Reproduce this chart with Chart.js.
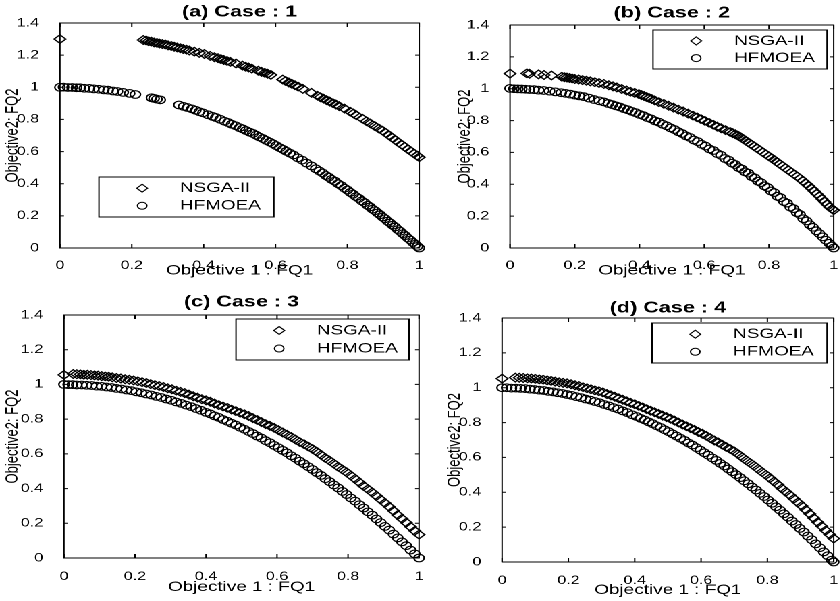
<!DOCTYPE html>
<html>
<head>
<meta charset="utf-8">
<title>Pareto fronts, cases 1-4</title>
<script src="https://cdn.jsdelivr.net/npm/chart.js@4.4.1/dist/chart.umd.min.js"></script>
<style>
  html, body { margin: 0; padding: 0; background: #fff; overflow: hidden; }
  /* panels are laid out narrow and widened by 1.35 like the printed figure */
  #figure { position: absolute; left: 0; top: 0; width: 623px; height: 601px;
            transform: scaleX(1.35); transform-origin: 0 0; }
  #figure canvas { position: absolute; }
</style>
</head>
<body>
<div id="figure">
  <canvas id="caseA" width="316" height="292" style="left:0px;top:0px"></canvas>
  <canvas id="caseB" width="307" height="292" style="left:316px;top:0px"></canvas>
  <canvas id="caseC" width="316" height="309" style="left:0px;top:292px"></canvas>
  <canvas id="caseD" width="307" height="309" style="left:316px;top:292px"></canvas>
</div>
<script>
// ---- (a) Case 1 ----
const aNsgaX = [0.000, 0.232, 0.240, 0.247, 0.254, 0.262, 0.270, 0.277, 0.285, 0.293, 0.301, 0.310, 0.318, 0.326,
  0.335, 0.343, 0.352, 0.360, 0.374, 0.388, 0.402, 0.418, 0.430, 0.440, 0.448, 0.456, 0.465, 0.474, 0.490,
  0.508, 0.517, 0.525, 0.534, 0.552, 0.561, 0.570, 0.578, 0.587, 0.620, 0.628, 0.637, 0.645, 0.654, 0.663,
  0.676, 0.700, 0.717, 0.725, 0.734, 0.742, 0.751, 0.760, 0.768, 0.777, 0.792, 0.808, 0.817, 0.825, 0.842,
  0.853, 0.864, 0.876, 0.888, 0.898, 0.907, 0.916, 0.925, 0.934, 0.943, 0.952, 0.960, 0.969, 0.978, 0.986,
  0.994, 1.000];
const aNsgaY = [1.300, 1.294, 1.291, 1.286, 1.284, 1.279, 1.276, 1.272, 1.269, 1.266, 1.261, 1.257, 1.252, 1.248,
  1.243, 1.238, 1.234, 1.229, 1.222, 1.214, 1.207, 1.195, 1.187, 1.181, 1.175, 1.170, 1.164, 1.158, 1.148,
  1.135, 1.128, 1.123, 1.116, 1.103, 1.096, 1.090, 1.084, 1.077, 1.048, 1.039, 1.030, 1.022, 1.013, 1.004,
  0.990, 0.965, 0.947, 0.938, 0.929, 0.920, 0.911, 0.901, 0.893, 0.883, 0.867, 0.848, 0.837, 0.826, 0.804,
  0.789, 0.775, 0.759, 0.743, 0.730, 0.716, 0.701, 0.686, 0.671, 0.656, 0.642, 0.629, 0.614, 0.600, 0.587,
  0.575, 0.565];
const aHfX = [0.000, 0.010, 0.022, 0.034, 0.046, 0.056, 0.068, 0.082, 0.094, 0.108, 0.122, 0.134, 0.148, 0.160,
  0.176, 0.194, 0.210, 0.255, 0.262, 0.270, 0.279, 0.331, 0.344, 0.355, 0.367, 0.378, 0.388, 0.398, 0.412,
  0.425, 0.434, 0.446, 0.458, 0.468, 0.478, 0.489, 0.500, 0.509, 0.518, 0.528, 0.537, 0.546, 0.555, 0.565,
  0.574, 0.584, 0.593, 0.602, 0.612, 0.621, 0.630, 0.640, 0.650, 0.662, 0.674, 0.686, 0.700, 0.712, 0.722,
  0.731, 0.740, 0.748, 0.756, 0.765, 0.774, 0.783, 0.792, 0.800, 0.808, 0.816, 0.824, 0.832, 0.840, 0.848,
  0.856, 0.863, 0.870, 0.877, 0.884, 0.891, 0.898, 0.905, 0.912, 0.919, 0.926, 0.933, 0.940, 0.947, 0.954,
  0.961, 0.968, 0.975, 0.982, 0.989, 0.995, 1.000];
const aHfY = [1.000, 1.001, 0.999, 0.999, 0.997, 0.997, 0.994, 0.993, 0.990, 0.988, 0.984, 0.982, 0.977, 0.974,
  0.968, 0.962, 0.955, 0.935, 0.931, 0.926, 0.922, 0.890, 0.881, 0.874, 0.866, 0.857, 0.848, 0.841, 0.829,
  0.819, 0.812, 0.801, 0.789, 0.781, 0.770, 0.761, 0.749, 0.741, 0.731, 0.721, 0.713, 0.702, 0.691, 0.681,
  0.670, 0.659, 0.649, 0.637, 0.624, 0.614, 0.602, 0.590, 0.579, 0.561, 0.547, 0.529, 0.511, 0.493, 0.479,
  0.467, 0.451, 0.441, 0.427, 0.416, 0.400, 0.388, 0.372, 0.361, 0.346, 0.335, 0.320, 0.309, 0.293, 0.282,
  0.266, 0.256, 0.242, 0.232, 0.218, 0.207, 0.193, 0.182, 0.167, 0.156, 0.142, 0.131, 0.115, 0.104, 0.089,
  0.077, 0.062, 0.050, 0.035, 0.023, 0.010, 0.000];

// ---- (b) Case 2 ----
const bNsgaX = [0.000, 0.052, 0.060, 0.088, 0.105, 0.128, 0.160, 0.168, 0.176, 0.184, 0.192, 0.200, 0.212, 0.224,
  0.236, 0.248, 0.262, 0.275, 0.290, 0.305, 0.318, 0.330, 0.345, 0.360, 0.372, 0.385, 0.398, 0.406, 0.414,
  0.422, 0.430, 0.438, 0.447, 0.460, 0.475, 0.490, 0.505, 0.520, 0.535, 0.550, 0.565, 0.578, 0.590, 0.602,
  0.615, 0.628, 0.640, 0.652, 0.666, 0.680, 0.688, 0.696, 0.704, 0.712, 0.720, 0.728, 0.736, 0.745, 0.754,
  0.763, 0.772, 0.781, 0.790, 0.800, 0.808, 0.816, 0.824, 0.833, 0.842, 0.851, 0.860, 0.869, 0.878, 0.887,
  0.896, 0.905, 0.914, 0.923, 0.932, 0.940, 0.948, 0.956, 0.964, 0.972, 0.980, 0.988, 0.995, 1.000];
const bNsgaY = [1.095, 1.096, 1.094, 1.090, 1.086, 1.083, 1.075, 1.072, 1.070, 1.067, 1.064, 1.061, 1.058, 1.054,
  1.050, 1.046, 1.041, 1.036, 1.030, 1.022, 1.015, 1.008, 0.998, 0.989, 0.981, 0.974, 0.966, 0.960, 0.954,
  0.948, 0.941, 0.935, 0.927, 0.916, 0.905, 0.893, 0.881, 0.869, 0.857, 0.844, 0.831, 0.820, 0.809, 0.798,
  0.786, 0.774, 0.762, 0.752, 0.740, 0.728, 0.721, 0.714, 0.706, 0.696, 0.685, 0.674, 0.663, 0.651, 0.639,
  0.627, 0.614, 0.602, 0.589, 0.575, 0.564, 0.553, 0.541, 0.528, 0.515, 0.502, 0.489, 0.476, 0.463, 0.450,
  0.436, 0.421, 0.405, 0.389, 0.372, 0.356, 0.340, 0.324, 0.307, 0.290, 0.273, 0.257, 0.245, 0.238];
const bHfX = [0.000, 0.012, 0.024, 0.036, 0.048, 0.060, 0.074, 0.088, 0.104, 0.122, 0.140, 0.158, 0.172, 0.186,
  0.200, 0.214, 0.228, 0.244, 0.260, 0.276, 0.290, 0.304, 0.316, 0.328, 0.340, 0.352, 0.364, 0.376, 0.388,
  0.400, 0.412, 0.424, 0.436, 0.448, 0.460, 0.472, 0.484, 0.496, 0.508, 0.520, 0.532, 0.544, 0.556, 0.568,
  0.580, 0.592, 0.604, 0.616, 0.628, 0.640, 0.652, 0.664, 0.676, 0.686, 0.696, 0.706, 0.716, 0.726, 0.736,
  0.746, 0.756, 0.766, 0.776, 0.786, 0.796, 0.806, 0.816, 0.826, 0.836, 0.846, 0.856, 0.866, 0.876, 0.886,
  0.896, 0.906, 0.916, 0.926, 0.936, 0.946, 0.956, 0.966, 0.976, 0.986, 0.994, 1.000];
const bHfY = [1.002, 1.000, 0.999, 0.998, 0.997, 0.995, 0.994, 0.991, 0.989, 0.985, 0.980, 0.975, 0.971, 0.966,
  0.960, 0.955, 0.950, 0.941, 0.932, 0.924, 0.917, 0.907, 0.900, 0.892, 0.885, 0.875, 0.868, 0.858, 0.850,
  0.839, 0.831, 0.819, 0.811, 0.798, 0.790, 0.777, 0.767, 0.754, 0.744, 0.730, 0.719, 0.704, 0.694, 0.678,
  0.668, 0.651, 0.640, 0.622, 0.612, 0.593, 0.582, 0.562, 0.551, 0.533, 0.524, 0.505, 0.496, 0.478, 0.470,
  0.449, 0.440, 0.420, 0.410, 0.390, 0.380, 0.358, 0.348, 0.325, 0.316, 0.292, 0.282, 0.257, 0.247, 0.222,
  0.210, 0.184, 0.170, 0.146, 0.130, 0.108, 0.090, 0.070, 0.049, 0.030, 0.013, 0.000];

// ---- (c) Case 3 ----
const cNsgaX = [0.000, 0.026, 0.036, 0.046, 0.056, 0.066, 0.076, 0.086, 0.096, 0.106, 0.116, 0.126, 0.136, 0.148,
  0.160, 0.172, 0.184, 0.196, 0.208, 0.220, 0.232, 0.244, 0.256, 0.268, 0.280, 0.292, 0.304, 0.316, 0.328,
  0.340, 0.352, 0.364, 0.376, 0.388, 0.400, 0.412, 0.424, 0.436, 0.448, 0.460, 0.472, 0.484, 0.496, 0.508,
  0.520, 0.532, 0.544, 0.556, 0.568, 0.580, 0.592, 0.604, 0.616, 0.628, 0.640, 0.652, 0.664, 0.676, 0.688,
  0.700, 0.712, 0.724, 0.736, 0.748, 0.760, 0.772, 0.784, 0.796, 0.808, 0.820, 0.832, 0.844, 0.856, 0.868,
  0.880, 0.892, 0.904, 0.916, 0.928, 0.940, 0.952, 0.964, 0.976, 0.988, 1.000];
const cNsgaY = [1.055, 1.060, 1.059, 1.058, 1.056, 1.056, 1.054, 1.052, 1.051, 1.048, 1.046, 1.044, 1.041, 1.037,
  1.034, 1.030, 1.027, 1.023, 1.018, 1.013, 1.008, 1.002, 0.996, 0.991, 0.985, 0.978, 0.972, 0.964, 0.957,
  0.950, 0.941, 0.932, 0.924, 0.915, 0.908, 0.900, 0.890, 0.881, 0.873, 0.865, 0.855, 0.846, 0.837, 0.828,
  0.818, 0.806, 0.795, 0.783, 0.771, 0.761, 0.750, 0.737, 0.723, 0.710, 0.697, 0.683, 0.668, 0.656, 0.642,
  0.628, 0.612, 0.594, 0.576, 0.561, 0.544, 0.526, 0.510, 0.494, 0.475, 0.456, 0.436, 0.415, 0.397, 0.378,
  0.358, 0.337, 0.317, 0.295, 0.272, 0.248, 0.226, 0.204, 0.180, 0.156, 0.135];
const cHfX = [0.000, 0.012, 0.024, 0.036, 0.050, 0.064, 0.078, 0.092, 0.106, 0.120, 0.134, 0.148, 0.162, 0.176,
  0.190, 0.204, 0.218, 0.232, 0.246, 0.260, 0.274, 0.288, 0.302, 0.316, 0.330, 0.344, 0.358, 0.372, 0.386,
  0.400, 0.412, 0.424, 0.436, 0.448, 0.460, 0.472, 0.484, 0.496, 0.508, 0.520, 0.532, 0.544, 0.556, 0.568,
  0.580, 0.592, 0.604, 0.616, 0.628, 0.640, 0.652, 0.664, 0.676, 0.688, 0.700, 0.712, 0.724, 0.736, 0.748,
  0.760, 0.772, 0.784, 0.796, 0.808, 0.820, 0.832, 0.844, 0.856, 0.868, 0.880, 0.892, 0.904, 0.916, 0.928,
  0.940, 0.952, 0.964, 0.976, 0.988, 1.000];
const cHfY = [1.000, 0.999, 0.999, 0.997, 0.997, 0.995, 0.994, 0.990, 0.989, 0.985, 0.982, 0.977, 0.974, 0.968,
  0.964, 0.957, 0.952, 0.945, 0.939, 0.931, 0.925, 0.916, 0.909, 0.899, 0.891, 0.881, 0.872, 0.861, 0.851,
  0.839, 0.830, 0.819, 0.810, 0.798, 0.788, 0.776, 0.766, 0.753, 0.742, 0.729, 0.717, 0.703, 0.691, 0.676,
  0.664, 0.649, 0.635, 0.620, 0.606, 0.589, 0.575, 0.558, 0.543, 0.526, 0.510, 0.492, 0.476, 0.457, 0.440,
  0.421, 0.404, 0.384, 0.366, 0.346, 0.328, 0.307, 0.288, 0.266, 0.247, 0.225, 0.204, 0.182, 0.161, 0.138,
  0.116, 0.093, 0.071, 0.046, 0.024, 0.000];

// ---- (d) Case 4 ----
const dNsgaX = [0.000, 0.040, 0.052, 0.064, 0.076, 0.088, 0.100, 0.112, 0.124, 0.136, 0.148, 0.160, 0.172, 0.184,
  0.196, 0.208, 0.220, 0.232, 0.244, 0.256, 0.268, 0.280, 0.292, 0.304, 0.316, 0.328, 0.340, 0.352, 0.364,
  0.376, 0.388, 0.400, 0.412, 0.424, 0.436, 0.448, 0.460, 0.472, 0.484, 0.496, 0.508, 0.520, 0.532, 0.544,
  0.556, 0.568, 0.580, 0.592, 0.604, 0.616, 0.628, 0.640, 0.652, 0.664, 0.676, 0.688, 0.700, 0.712, 0.724,
  0.736, 0.748, 0.760, 0.772, 0.784, 0.796, 0.808, 0.820, 0.832, 0.844, 0.856, 0.868, 0.880, 0.892, 0.904,
  0.916, 0.928, 0.940, 0.952, 0.964, 0.976, 0.988, 1.000];
const dNsgaY = [1.052, 1.058, 1.057, 1.056, 1.054, 1.053, 1.051, 1.048, 1.046, 1.042, 1.039, 1.035, 1.031, 1.028,
  1.025, 1.020, 1.014, 1.009, 1.003, 0.997, 0.991, 0.985, 0.980, 0.973, 0.964, 0.956, 0.948, 0.939, 0.931,
  0.922, 0.913, 0.905, 0.896, 0.887, 0.877, 0.868, 0.859, 0.850, 0.840, 0.831, 0.822, 0.811, 0.800, 0.789,
  0.779, 0.768, 0.758, 0.746, 0.736, 0.724, 0.711, 0.697, 0.686, 0.673, 0.660, 0.648, 0.635, 0.619, 0.601,
  0.584, 0.568, 0.552, 0.534, 0.516, 0.500, 0.481, 0.462, 0.443, 0.422, 0.403, 0.384, 0.363, 0.342, 0.322,
  0.299, 0.276, 0.252, 0.228, 0.205, 0.181, 0.158, 0.135];
const dHfX = [0.000, 0.014, 0.028, 0.042, 0.056, 0.070, 0.084, 0.098, 0.112, 0.126, 0.140, 0.154, 0.168, 0.182,
  0.196, 0.210, 0.224, 0.238, 0.252, 0.266, 0.280, 0.294, 0.308, 0.322, 0.336, 0.350, 0.364, 0.378, 0.392,
  0.406, 0.418, 0.430, 0.442, 0.454, 0.466, 0.478, 0.490, 0.502, 0.514, 0.526, 0.538, 0.550, 0.562, 0.574,
  0.586, 0.598, 0.610, 0.622, 0.634, 0.646, 0.658, 0.670, 0.682, 0.694, 0.706, 0.718, 0.730, 0.742, 0.754,
  0.766, 0.778, 0.790, 0.802, 0.814, 0.826, 0.838, 0.850, 0.862, 0.874, 0.886, 0.898, 0.910, 0.922, 0.934,
  0.946, 0.958, 0.970, 0.982, 0.994, 1.000];
const dHfY = [1.000, 1.000, 0.998, 0.998, 0.996, 0.995, 0.992, 0.990, 0.986, 0.984, 0.979, 0.976, 0.971, 0.967,
  0.961, 0.956, 0.949, 0.943, 0.935, 0.929, 0.921, 0.914, 0.904, 0.896, 0.886, 0.878, 0.867, 0.857, 0.845,
  0.835, 0.824, 0.815, 0.804, 0.794, 0.782, 0.772, 0.759, 0.748, 0.735, 0.723, 0.710, 0.698, 0.683, 0.671,
  0.656, 0.642, 0.627, 0.613, 0.597, 0.583, 0.566, 0.551, 0.534, 0.518, 0.501, 0.484, 0.466, 0.449, 0.430,
  0.413, 0.394, 0.376, 0.356, 0.337, 0.317, 0.298, 0.277, 0.257, 0.235, 0.215, 0.193, 0.172, 0.149, 0.128,
  0.104, 0.082, 0.058, 0.036, 0.011, 0.000];

const xTicks = [0, 0.2, 0.4, 0.6, 0.8, 1];
const yTicks = [0, 0.2, 0.4, 0.6, 0.8, 1, 1.2, 1.4];
const seriesNames = ['NSGA-II', 'HFMOEA'];

const FONT = '"Liberation Sans", Arial, Helvetica, sans-serif';
Chart.defaults.font.family = FONT;
Chart.defaults.color = '#000';

// box round the axes with short inward ticks on all four sides
const axesFrame = {
  id: 'axesFrame',
  afterDatasetsDraw(chart) {
    const { ctx, chartArea: a, scales: { x, y } } = chart;
    ctx.save();
    ctx.strokeStyle = '#000';
    ctx.lineWidth = 1;
    ctx.strokeRect(a.left, a.top, a.right - a.left, a.bottom - a.top);
    ctx.beginPath();
    x.ticks.forEach(t => {
      const px = x.getPixelForValue(t.value);
      ctx.moveTo(px, a.bottom); ctx.lineTo(px, a.bottom - 4);
      ctx.moveTo(px, a.top); ctx.lineTo(px, a.top + 4);
    });
    y.ticks.forEach(t => {
      const py = y.getPixelForValue(t.value);
      ctx.moveTo(a.left, py); ctx.lineTo(a.left + 3, py);
      ctx.moveTo(a.right, py); ctx.lineTo(a.right - 3, py);
    });
    ctx.stroke();
    ctx.restore();
  }
};

// legend drawn as a white box inside the plot area
const legendBox = {
  id: 'legendBox',
  afterDraw(chart, args, opts) {
    const ctx = chart.ctx;
    const { left, top, width, height } = opts;
    ctx.save();
    ctx.fillStyle = '#fff';
    ctx.fillRect(left, top, width, height);
    ctx.strokeStyle = '#000';
    ctx.lineWidth = 1;
    ctx.strokeRect(left, top, width, height);
    ctx.font = '14px ' + FONT;
    ctx.textBaseline = 'middle';
    chart.data.datasets.forEach((ds, i) => {
      const cy = top + height * (i === 0 ? 0.28 : 0.72);
      ctx.fillStyle = 'rgba(0,0,0,0)';
      ctx.strokeStyle = '#000';
      ctx.lineWidth = 1;
      Chart.helpers.drawPoint(ctx, { pointStyle: ds.pointStyle, radius: ds.pointRadius - 0.3, borderWidth: 1, rotation: 0 },
        left + 32, cy);
      ctx.fillStyle = '#000';
      ctx.fillText(ds.label, left + 60, cy);
    });
    ctx.restore();
  }
};

function toPoints(xs, ys) {
  return xs.map((x, i) => ({ x: x, y: ys[i] }));
}

const fmt = v => String(Math.round(v * 10) / 10);

const panels = [
  { id: 'caseA', title: '(a) Case : 1', titlePad: { top: 2.4, bottom: 1.4 }, padRight: 4.9,
    yWidth: 44.4, xHeight: 44, yTitlePad: 1.8, xTitlePad: 13.2, xTickPad: 2.5,
    legend: { left: 73.3, top: 177, width: 129.6, height: 40 },
    nsga: [aNsgaX, aNsgaY], hf: [aHfX, aHfY] },
  { id: 'caseB', title: '(b) Case : 2', titlePad: { top: 3.4, bottom: 2.4 }, padRight: 3,
    yWidth: 61.8, xHeight: 44, yTitlePad: 20.6, xTitlePad: 13.2, xTickPad: 2.5,
    legend: { left: 167.7, top: 30, width: 128.9, height: 39 },
    nsga: [bNsgaX, bNsgaY], hf: [bHfX, bHfY] },
  { id: 'caseC', title: '(c) Case : 3', titlePad: { top: 0.4, bottom: 3.4 }, padRight: 5.6,
    yWidth: 47.4, xHeight: 43, yTitlePad: 1.8, xTitlePad: 5.4, xTickPad: 3.5,
    legend: { left: 174.8, top: 27, width: 128.2, height: 41 },
    nsga: [cNsgaX, cNsgaY], hf: [cHfX, cHfY] },
  { id: 'caseD', title: '(d) Case : 4', titlePad: { top: 6.4, bottom: 0.4 }, padRight: 3,
    yWidth: 55.9, xHeight: 39, yTitlePad: 13.2, xTitlePad: 2.4, xTickPad: 3.5,
    legend: { left: 167, top: 31, width: 129.6, height: 40 },
    nsga: [dNsgaX, dNsgaY], hf: [dHfX, dHfY] }
];

panels.forEach(p => {
  new Chart(document.getElementById(p.id), {
    type: 'scatter',
    data: {
      datasets: [
        { label: seriesNames[0], data: toPoints(p.nsga[0], p.nsga[1]), pointStyle: 'rectRot', pointRadius: 4.3,
          borderColor: '#000', backgroundColor: 'rgba(0,0,0,0)', borderWidth: 1.15, clip: false },
        { label: seriesNames[1], data: toPoints(p.hf[0], p.hf[1]), pointStyle: 'circle', pointRadius: 3.8,
          borderColor: '#000', backgroundColor: 'rgba(0,0,0,0)', borderWidth: 1.15, clip: false }
      ]
    },
    options: {
      responsive: false,
      animation: false,
      devicePixelRatio: 2,
      events: [],
      layout: { padding: { left: 0, right: p.padRight, top: 0, bottom: 0 } },
      scales: {
        x: {
          type: 'linear', min: 0, max: 1,
          afterBuildTicks: s => { s.ticks = xTicks.map(v => ({ value: v })); },
          ticks: { padding: p.xTickPad, font: { size: 12 }, callback: fmt, maxRotation: 0, autoSkip: false },
          grid: { display: false },
          border: { display: false },
          title: { display: true, text: 'Objective 1 : FQ1', font: { size: 14 },
                   padding: { top: 0, bottom: p.xTitlePad } },
          afterFit: s => { s.height = p.xHeight; s.paddingLeft = 0; s.paddingRight = 0; }
        },
        y: {
          type: 'linear', min: 0, max: 1.4,
          afterBuildTicks: s => { s.ticks = yTicks.map(v => ({ value: v })); },
          ticks: { padding: 7.4, font: { size: 12 }, callback: fmt, autoSkip: false },
          grid: { display: false },
          border: { display: false },
          title: { display: true, text: 'Objective2: FQ2', font: { size: 13 },
                   padding: { top: p.yTitlePad, bottom: 0 } },
          afterFit: s => { s.width = p.yWidth; s.paddingTop = 0; s.paddingBottom = 0; }
        }
      },
      plugins: {
        legend: { display: false },
        tooltip: { enabled: false },
        title: { display: true, text: p.title, fullSize: false, font: { size: 16, weight: 'bold' },
                 padding: p.titlePad },
        legendBox: p.legend
      }
    },
    plugins: [axesFrame, legendBox]
  });
});
</script>
</body>
</html>
